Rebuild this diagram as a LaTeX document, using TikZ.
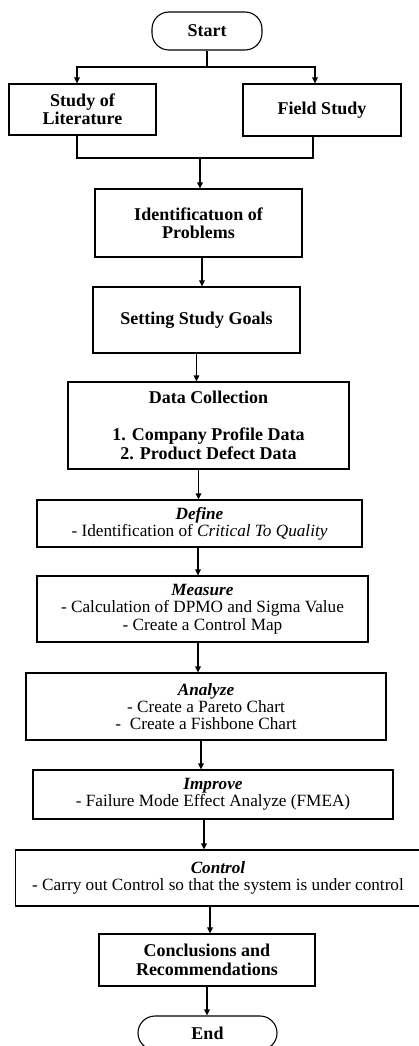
\documentclass[tikz,border=0pt]{standalone}
\usepackage{fontspec}
\setmainfont{Liberation Serif}
\usetikzlibrary{arrows.meta}
\tikzset{
	box/.style={draw, line width=1.1pt, align=center, inner sep=2pt},
	term/.style={draw, line width=1.1pt, rounded corners=17pt, align=center},
	head/.style={font=\fontsize{18}{18.5}\selectfont\bfseries},
	body/.style={font=\fontsize{17.2}{17.3}\selectfont},
}
\begin{document}
\begin{tikzpicture}[x=1pt, y=-1pt, >={Triangle[length=6pt,width=5.5pt]}, line width=1.1pt]
	\useasboundingbox (0,0) rectangle (419,1046);
	\clip (0,0) rectangle (419,1046);
	% terminals and steps
	\node[term, head, minimum width=110pt, minimum height=38pt] (start) at (207,31) {Start};
	\node[box, head, minimum width=147pt, minimum height=51pt] (lit) at (82.5,109.5) {Study of\\Literature};
	\node[box, head, minimum width=158pt, minimum height=52pt] (field) at (322,110) {Field Study};
	\node[box, head, minimum width=207pt, minimum height=68pt] (ident) at (198.5,223) {Identificatuon of\\Problems};
	\node[box, head, minimum width=207pt, minimum height=66pt] (goals) at (196.5,320) {Setting Study Goals};
	\node[box, head, minimum width=281pt, minimum height=87pt] (data) at (208.5,425.5) {Data Collection\\[18.5pt]1. Company Profile Data\\2. Product Defect Data};
	\node[box, body, minimum width=325pt, minimum height=47pt] (define) at (199.5,523.5) {\textbf{\textit{Define}}\\- Identification of \textit{Critical To Quality}};
	\node[box, body, minimum width=331pt, minimum height=66pt] (measure) at (202.5,609) {\textbf{\textit{Measure}}\\- Calculation of DPMO and Sigma Value\\- Create a Control Map};
	\node[box, body, minimum width=360pt, minimum height=67pt] (analyze) at (206,706.5) {\textbf{\textit{Analyze}}\\- Create a Pareto Chart\\-\ \ Create a Fishbone Chart};
	\node[box, body, minimum width=360pt, minimum height=49pt] (improve) at (213,794.5) {\textbf{\textit{Improve}}\\- Failure Mode Effect Analyze (FMEA)};
	\node[box, body, minimum width=405pt, minimum height=56pt] (control) at (218,878) {\textbf{\textit{Control}}\\- Carry out Control so that the system is under control};
	\node[box, head, minimum width=216pt, minimum height=52pt] (concl) at (207,960) {Conclusions and\\Recommendations};
	\node[term, head, minimum width=139pt, minimum height=34pt] (end) at (207.5,1033) {End};
	% split and join
	\coordinate (split) at (207,67);
	\coordinate (join) at (200,158);
	\draw (start) -- (split);
	\draw[->] (split) -| ([xshift=-5.5pt]lit.north);
	\draw[->] (split) -| ([xshift=-7pt]field.north);
	\draw ([xshift=-5.5pt]lit.south) |- (join);
	\draw ([xshift=-9pt]field.south) |- (join);
	\draw[->] (join) -- (join |- ident.north);
	% main chain
	\draw[->] ([xshift=3.5pt]ident.south) -- ([xshift=3.5pt]ident.south |- goals.north);
	\draw[->] (goals.south) -- (goals.south |- data.north);
	\draw[->] ([xshift=-10pt]data.south) -- ([xshift=-10pt]data.south |- define.north);
	\draw[->] ([xshift=-1.5pt]define.south) -- ([xshift=-1.5pt]define.south |- measure.north);
	\draw[->] ([xshift=-4.5pt]measure.south) -- ([xshift=-4.5pt]measure.south |- analyze.north);
	\draw[->] ([xshift=-5pt]analyze.south) -- ([xshift=-5pt]analyze.south |- improve.north);
	\draw[->] ([xshift=-9pt]improve.south) -- ([xshift=-9pt]improve.south |- control.north);
	\draw[->] ([xshift=-8pt]control.south) -- ([xshift=-8pt]control.south |- concl.north);
	\draw[->] (concl.south) -- (concl.south |- end.north);
\end{tikzpicture}
\end{document}
